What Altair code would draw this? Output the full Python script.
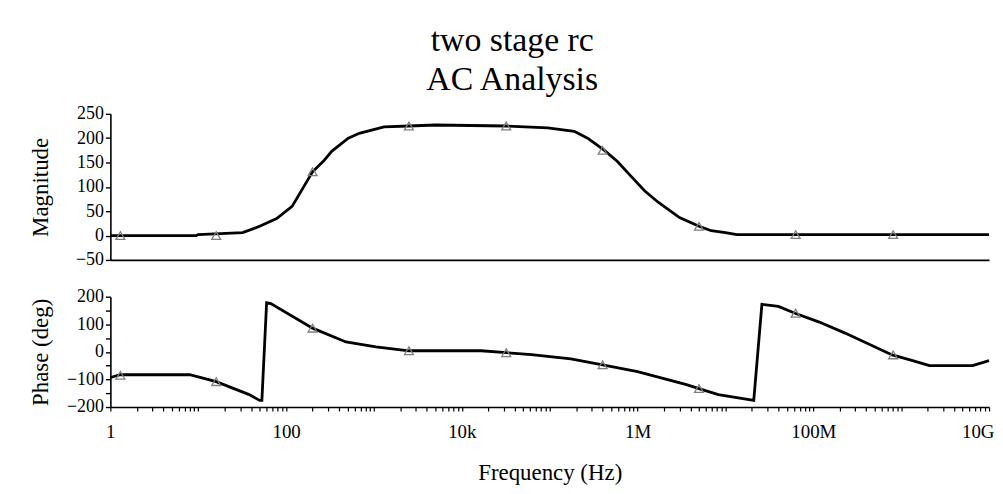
import altair as alt
import pandas as pd

# ---- data ----
mag_freq = [1, 3.2, 9.5, 10, 32, 50, 78, 117, 200, 270, 330, 510, 680, 1300, 2500, 5000,
            32000, 95000, 190000, 270000, 420000, 590000, 830000, 1.2e6, 1.7e6, 3.0e6,
            5.0e6, 6.9e6, 1.0e7, 1.35e7, 1e10]
mag_val = [0, 0, 0, 2, 6, 19, 35, 60, 131, 154, 173, 200, 210, 223, 225, 227,
           225, 221, 214, 200, 175, 152, 123, 92, 69, 37,
           19, 10, 6, 2, 2]

ph_freq = [1, 1.3, 8, 16, 38, 50, 53, 60, 67, 200, 480, 1050, 2500, 16600, 32000, 62000,
           174000, 400000, 1.0e6, 3.6e6, 5.0e6, 8.3e6, 2.1e7, 2.6e7, 4.0e7, 6.2e7,
           1.17e8, 2.3e8, 7.9e8, 1.35e9, 2.1e9, 6.5e9, 1e10]
ph_val = [-93, -83, -83, -108, -155, -176, -176, 178, 175, 86, 36, 18, 4, 4, -3, -10,
          -25, -47, -72, -119, -133, -155, -176, 172, 165, 140,
          108, 68, -11, -32, -50, -50, -32]

marker_freq = [1.3, 16, 200, 2500, 32000, 400000, 5e6, 6.3e7, 8.1e8]
mag_marker_val = [0, 0, 131, 225, 225, 175, 19, 2, 2]
ph_marker_val = [-85, -108, 86, 4, -3, -47, -133, 140, -11]

x_tick_values = [k * 10 ** d for d in range(10) for k in range(1, 10)] + [10 ** 10]
x_label_map = {1: "1", 100: "100", 10 ** 4: "10k", 10 ** 6: "1M", 10 ** 8: "100M", 10 ** 10: "10G"}

mag_df = pd.concat([
    pd.DataFrame({"freq": mag_freq, "value": mag_val, "kind": "curve"}),
    pd.DataFrame({"freq": marker_freq, "value": mag_marker_val, "kind": "marker"}),
], ignore_index=True)
ph_df = pd.concat([
    pd.DataFrame({"freq": ph_freq, "value": ph_val, "kind": "curve"}),
    pd.DataFrame({"freq": marker_freq, "value": ph_marker_val, "kind": "marker"}),
], ignore_index=True)

FONT = "Liberation Serif"
x_scale = alt.Scale(type="log", domain=[1, 1e10], nice=False)

label_expr = " : ".join(
    f"datum.value == {k} ? '{v}'" for k, v in x_label_map.items()
) + " : ''"

line_style = dict(color="black", strokeWidth=2.8)
pt_style = dict(shape="triangle-up", filled=False, color="#7f7f7f", size=80, strokeWidth=1.3, opacity=1)

y_common = dict(minExtent=42, maxExtent=42, titlePadding=16, labelOverlap=False,
                domain=True, ticks=True, tickSize=5, labelPadding=2,
                domainColor="black", tickColor="black", domainWidth=1.6, tickWidth=1.4,
                labelFont=FONT, labelFontSize=18)

# Magnitude panel
mag_base = alt.Chart(mag_df).encode(
    x=alt.X("freq:Q", scale=x_scale,
            axis=alt.Axis(labels=False, ticks=False, title=None, domain=True, domainWidth=1.6)),
    y=alt.Y("value:Q", scale=alt.Scale(domain=[-50, 250], nice=False, zero=False),
            axis=alt.Axis(title="Magnitude", values=list(range(-50, 251, 50)), **y_common)),
)
mag = alt.layer(
    mag_base.transform_filter("datum.kind == 'curve'").mark_line(**line_style),
    mag_base.transform_filter("datum.kind == 'marker'").mark_point(**pt_style),
).properties(width=884, height=147)

# Phase panel
ph_base = alt.Chart(ph_df).encode(
    x=alt.X("freq:Q", scale=x_scale,
            axis=alt.Axis(title="Frequency (Hz)", values=x_tick_values, labelExpr=label_expr,
                          tickSize=4, labelPadding=12, titlePadding=20, labelOverlap=False,
                          labelFlush=True, labelFlushOffset=5, domainWidth=1.6, tickWidth=1.2)),
    y=alt.Y("value:Q", scale=alt.Scale(domain=[-200, 200], nice=False, zero=False),
            axis=alt.Axis(title="Phase (deg)", values=list(range(-200, 201, 50)),
                          labelExpr="datum.value % 100 == 0 ? datum.label : ''", **y_common)),
)
ph = alt.layer(
    ph_base.transform_filter("datum.kind == 'curve'").mark_line(**line_style),
    ph_base.transform_filter("datum.kind == 'marker'").mark_point(**pt_style),
).properties(width=884, height=111)

chart = alt.vconcat(mag, ph, spacing=37, bounds="flush").properties(
    title=alt.TitleParams(text=["two stage rc", "AC Analysis"], font=FONT, fontSize=34,
                          fontWeight="normal", lineHeight=39, anchor="middle", color="black",
                          offset=8),
    padding={"left": 22, "top": 15, "right": 0, "bottom": 0},
    background="white",
).configure_axis(
    domainColor="black", tickColor="black", labelColor="black", titleColor="black",
    labelFont=FONT, titleFont=FONT, labelFontSize=19, titleFontSize=23,
    titleFontWeight="normal", grid=False,
).configure_view(stroke=None)

chart.save("out.html", embed_options={"renderer": "svg", "actions": False})
